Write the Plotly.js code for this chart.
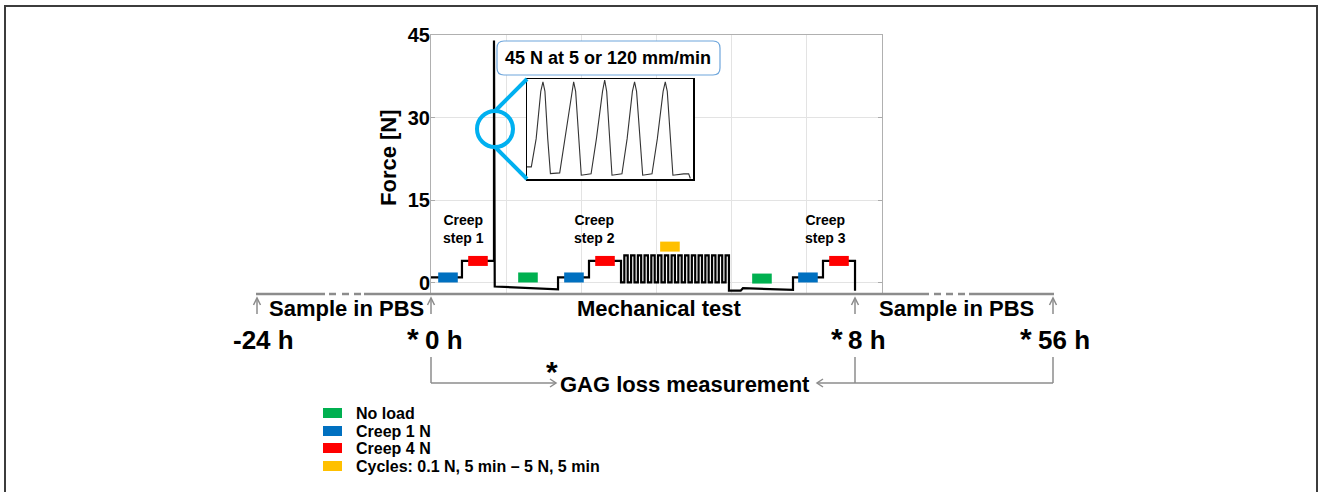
<!DOCTYPE html>
<html><head><meta charset="utf-8">
<script src="https://cdn.plot.ly/plotly-3.0.1.min.js"></script>
<style>html,body{margin:0;padding:0;background:#fff}#chart{width:1320px;height:492px}</style>
</head><body><div id="chart"></div>
<script>
// ---------- data ----------
const yTickVals = [0, 15, 30, 45];
const yTickText = ['0', '15', '30', '45'];
const xGridVals = [0, 1, 2, 3, 4, 5, 6];

// force trace, piece by piece (x in plot units, force in N)
const creep1X = [0, 0.412, 0.412, 0.838, 0.838];
const creep1F = [1, 1, 4, 4, 44];
const restAX = [0.848, 1.690];
const restAF = [-0.65, -1.15];
const creep2X = [1.690, 2.102, 2.102, 2.528];
const creep2F = [1, 1, 4, 4];
const cycleX = [2.528, 2.572, 2.572, 2.617, 2.617, 2.662, 2.662, 2.707, 2.707, 2.752, 2.752, 2.796,
  2.796, 2.841, 2.841, 2.886, 2.886, 2.931, 2.931, 2.976, 2.976, 3.021, 3.021, 3.066,
  3.066, 3.111, 3.111, 3.156, 3.156, 3.201, 3.201, 3.245, 3.245, 3.290, 3.290, 3.335,
  3.335, 3.380, 3.380, 3.425, 3.425, 3.470, 3.470, 3.515, 3.515, 3.560, 3.560, 3.605,
  3.605, 3.650, 3.650, 3.694, 3.694, 3.739, 3.739, 3.784, 3.784, 3.829, 3.829, 3.874,
  3.874, 3.919, 3.919, 3.964];
const cycleF = [0.1, 0.1, 5, 5, 0.1, 0.1, 5, 5, 0.1, 0.1, 5, 5,
  0.1, 0.1, 5, 5, 0.1, 0.1, 5, 5, 0.1, 0.1, 5, 5,
  0.1, 0.1, 5, 5, 0.1, 0.1, 5, 5, 0.1, 0.1, 5, 5,
  0.1, 0.1, 5, 5, 0.1, 0.1, 5, 5, 0.1, 0.1, 5, 5,
  0.1, 0.1, 5, 5, 0.1, 0.1, 5, 5, 0.1, 0.1, 5, 5,
  0.1, 0.1, 5, 5];
const restBX = [3.964, 4.12, 4.15, 4.816];
const restBF = [-1.4, -1.4, -0.95, -1.25];
const creep3X = [4.816, 5.215, 5.215, 5.641, 5.641];
const creep3F = [1, 1, 4, 4, -1.4];

// phase markers
const noLoadX = [1.290, 4.403];
const noLoadF = [1, 0.8];
const creep1NX = [0.226, 1.902, 5.015];
const creep1NF = [1, 1, 1];
const creep4NX = [0.625, 2.315, 5.428];
const creep4NF = [4, 4, 4];
const cyclesX = [3.179];
const cyclesF = [6.6];

// zoomed inset: 5 load peaks (normalised units)
const insetT = [0, 2.6, 5.5, 8.3, 9.6, 10.8, 12.5, 14.1, 19.7,
  22.8, 26.8, 28.1, 29.3, 31, 32.7, 38.6,
  41.8, 45.5, 46.8, 48, 49.6, 51.2, 57.2,
  60.3, 63.5, 64.8, 66, 68, 69.7, 75.3,
  78.5, 82, 83.3, 84.5, 86.3, 87.9, 94.4, 97.4, 98.4];
const insetF = [11.7, 11.7, 40, 88, 97.7, 88, 40, 5, 5.7,
  40, 88, 97.7, 88, 40, 3.3, 4.7,
  40, 88, 99.3, 88, 40, 3.3, 4.7,
  40, 88, 97.7, 88, 40, 3.3, 4.7,
  40, 88, 97.7, 88, 40, 3.3, 4.7, 4.7, 0];

const legendLabels = ['No load', 'Creep 1 N', 'Creep 4 N', 'Cycles: 0.1 N, 5 min \u2013 5 N, 5 min'];
const legendColors = ['#00b050', '#0070c0', '#ff0000', '#ffc000'];
const creepLabels = ['Creep<br>step 1', 'Creep<br>step 2', 'Creep<br>step 3'];
const timeLabels = ['-24 h', '0 h', '8 h', '56 h'];
const phaseLabels = ['Sample in PBS', 'Mechanical test', 'Sample in PBS'];
const calloutText = '45 N at 5 or 120 mm/min';
const gagText = 'GAG loss measurement';

// ---------- helpers ----------
const W = 1320, H = 492;
const FONT = 'Arial, "Liberation Sans", sans-serif';
const px = v => v / W;
const py = v => 1 - v / H;
const GRAY = '#8c8c8c';
const CYAN = '#00b0f0';

function seg(x0, y0, x1, y1, color, width) {
  return {type: 'line', xref: 'paper', yref: 'paper', x0: px(x0), y0: py(y0), x1: px(x1), y1: py(y1),
    line: {color: color, width: width}, layer: 'above'};
}
function poly(pts, color, width, fill) {
  let d = pts.map((p, i) => (i ? 'L' : 'M') + px(p[0]) + ',' + py(p[1])).join(' ');
  return {type: 'path', xref: 'paper', yref: 'paper', path: d, line: {color: color, width: width},
    fillcolor: fill || 'rgba(0,0,0,0)', layer: 'above'};
}
function roundRect(x0, y0, x1, y1, r, color, width) {
  const P = (x, y) => px(x) + ',' + py(y);
  const d = 'M' + P(x0 + r, y0) + ' L' + P(x1 - r, y0) + ' Q' + P(x1, y0) + ' ' + P(x1, y0 + r) +
    ' L' + P(x1, y1 - r) + ' Q' + P(x1, y1) + ' ' + P(x1 - r, y1) +
    ' L' + P(x0 + r, y1) + ' Q' + P(x0, y1) + ' ' + P(x0, y1 - r) +
    ' L' + P(x0, y0 + r) + ' Q' + P(x0, y0) + ' ' + P(x0 + r, y0) + ' Z';
  return {type: 'path', xref: 'paper', yref: 'paper', path: d, line: {color: color, width: width},
    fillcolor: '#ffffff', layer: 'above'};
}
function ann(text, x, y, size, extra) {
  return Object.assign({text: '<b>' + text + '</b>', xref: 'paper', yref: 'paper', x: px(x), y: py(y),
    xanchor: 'center', yanchor: 'middle', showarrow: false,
    font: {family: FONT, size: size, color: '#000'}}, extra || {});
}

// ---------- traces ----------
const forceX = [].concat(creep1X, restAX, creep2X, cycleX, restBX, creep3X);
const forceF = [].concat(creep1F, restAF, creep2F, cycleF, restBF, creep3F);

function markerTrace(x, y, color) {
  return {type: 'scatter', mode: 'markers', x: x, y: y, xaxis: 'x', yaxis: 'y', hoverinfo: 'skip',
    marker: {symbol: 'line-ew', size: 14, color: color, line: {width: 10, color: color}}};
}

const traces = [
  {type: 'scatter', mode: 'lines', x: forceX, y: forceF, xaxis: 'x', yaxis: 'y',
    line: {color: '#000', width: 2.2}, hoverinfo: 'skip'},
  markerTrace(noLoadX, noLoadF, legendColors[0]),
  markerTrace(creep1NX, creep1NF, legendColors[1]),
  markerTrace(creep4NX, creep4NF, legendColors[2]),
  markerTrace(cyclesX, cyclesF, legendColors[3]),
  {type: 'scatter', mode: 'lines', x: insetT, y: insetF, xaxis: 'x2', yaxis: 'y2',
    line: {color: '#333', width: 1.1}, hoverinfo: 'skip'}
];

// ---------- shapes ----------
const shapes = [];
// outer frame
shapes.push(poly([[5, 500], [5, 6], [1317, 6], [1317, 500]], '#3c3c3c', 2));
// timeline with dashed gaps
[[256, 325], [329, 336], [342, 349], [354, 361], [364, 929], [934, 941], [946, 953], [958, 965], [969, 1054]]
  .forEach(s => shapes.push(seg(s[0], 294, s[1], 294, GRAY, 2.5)));
// up arrows at the four time points
[257, 431, 855, 1053].forEach(x => {
  shapes.push(seg(x, 314, x, 298, GRAY, 1.5));
  shapes.push(poly([[x - 3.5, 305], [x, 298], [x + 3.5, 305]], GRAY, 1.5));
});
// GAG loss connectors
[431, 855, 1053].forEach(x => shapes.push(seg(x, 357, x, 383, GRAY, 1.5)));
shapes.push(seg(431, 383, 556, 383, GRAY, 1.5));
shapes.push(poly([[550, 379], [556, 383], [550, 387]], GRAY, 1.5));
shapes.push(seg(1053, 383, 817, 383, GRAY, 1.5));
shapes.push(poly([[823, 379], [817, 383], [823, 387]], GRAY, 1.5));
// callout box
shapes.push(roundRect(497, 41, 720, 75, 7, '#6ea6dc', 1.2));
// magnifier circle and connectors
shapes.push({type: 'circle', xref: 'paper', yref: 'paper', x0: px(477), x1: px(513), y0: py(147), y1: py(111),
  line: {color: CYAN, width: 4}, layer: 'above'});
shapes.push(seg(495, 111, 527, 79, CYAN, 4));
shapes.push(seg(495, 147, 527, 179, CYAN, 4));
// legend swatches
const legendY = [413, 431, 448, 466];
legendColors.forEach((c, i) => shapes.push({type: 'rect', xref: 'paper', yref: 'paper',
  x0: px(323), x1: px(342), y0: py(legendY[i] + 5), y1: py(legendY[i] - 5),
  line: {width: 0}, fillcolor: c, layer: 'above'}));

// ---------- annotations ----------
const annotations = [];
annotations.push(ann('Force [N]', 388, 158, 22, {textangle: -90}));
[463, 594, 825].forEach((x, i) => annotations.push(ann(creepLabels[i], x, 229, 14)));
annotations.push(ann(calloutText, 608, 58, 18));
annotations.push(ann(phaseLabels[0], 346, 308.5, 22));
annotations.push(ann(phaseLabels[1], 659, 308.5, 22));
annotations.push(ann(phaseLabels[2], 956, 308.5, 22));
[263, 444, 867, 1064].forEach((x, i) => annotations.push(ann(timeLabels[i], x, 340, 26)));
[413, 837, 1026].forEach(x => annotations.push(ann('*', x, 338, 30)));
annotations.push(ann('*', 552, 371, 30));
annotations.push(ann(gagText, 685, 384, 22));
legendLabels.forEach((t, i) => annotations.push(ann(t, 354, legendY[i], 16, {xanchor: 'left'})));

// ---------- layout ----------
const layout = {
  width: W, height: H,
  margin: {l: 0, r: 0, t: 0, b: 0},
  paper_bgcolor: '#ffffff', plot_bgcolor: '#ffffff',
  showlegend: false,
  xaxis: {domain: [px(431), px(882)], range: [0, 6], tickvals: xGridVals, showticklabels: false,
    showgrid: true, gridcolor: '#e3e3e3', zeroline: false, showline: true, mirror: true,
    linecolor: '#b0b0b0', linewidth: 1, ticks: '', fixedrange: true},
  yaxis: {domain: [py(294), py(35)], range: [-2, 45], tickvals: yTickVals, ticktext: yTickText,
    ticks: 'inside', ticklen: 4, tickcolor: '#aaaaaa', ticklabelstandoff: -4,
    tickfont: {family: FONT, size: 20, color: '#000', weight: 'bold'},
    showgrid: true, gridcolor: '#e3e3e3', zeroline: false, showline: true, mirror: 'ticks',
    linecolor: '#b0b0b0', linewidth: 1, fixedrange: true},
  xaxis2: {domain: [px(527), px(693)], range: [0, 100], anchor: 'y2', showgrid: false, zeroline: false,
    showticklabels: false, showline: true, mirror: true, linecolor: '#000', linewidth: 1.5, ticks: '',
    fixedrange: true},
  yaxis2: {domain: [py(179), py(79)], range: [-0.5, 100.5], anchor: 'x2', showgrid: false, zeroline: false,
    showticklabels: false, showline: true, mirror: true, linecolor: '#000', linewidth: 1.5, ticks: '',
    fixedrange: true},
  shapes: shapes,
  annotations: annotations
};

Plotly.newPlot('chart', traces, layout, {displayModeBar: false, staticPlot: true});
</script>
</body></html>
